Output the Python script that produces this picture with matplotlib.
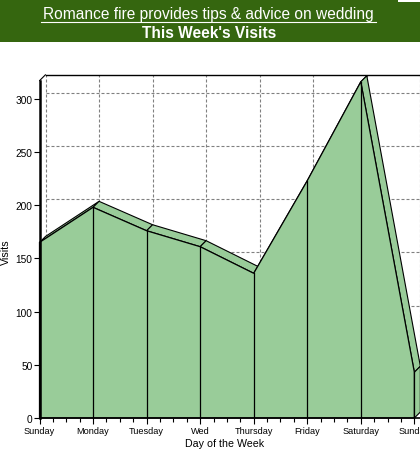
import matplotlib
matplotlib.use('Agg')
import matplotlib.pyplot as plt
import numpy as np
from matplotlib.patches import Polygon, Rectangle, ConnectionPatch
from matplotlib.ticker import MultipleLocator
import matplotlib.transforms as mtransforms

days = ['Sunday', 'Monday', 'Tuesday', 'Wed', 'Thursday', 'Friday', 'Saturday', 'Sunday']
visits = [165, 198, 176, 161, 136, 223, 316, 43]
yticks = [0, 50, 100, 150, 200, 250, 300]
title1 = 'Romance fire provides tips & advice on wedding'
title2 = "This Week's Visits"

W, H = 420, 456
FILL = '#99cc99'
HEAD = '#35660f'
plt.rcParams['font.family'] = ['Liberation Sans', 'DejaVu Sans']

fig = plt.figure(figsize=(W / 100, H / 100), dpi=100)
fig.patches.append(Rectangle((0, 1 - 43 / H), 1, 43 / H, transform=fig.transFigure,
                             facecolor=HEAD, edgecolor='none', zorder=0))
fig.patches.append(Rectangle((398 / W, 1 - 3 / H), 22 / W, 3 / H, transform=fig.transFigure,
                             facecolor='white', edgecolor='none', zorder=1))
fig.text(208.5 / W, 1 - 15 / H, title1, color='white', fontsize=11.2,
         ha='center', va='center')
fig.add_artist(plt.Line2D([41 / W, 376 / W], [1 - 22.5 / H, 1 - 22.5 / H],
                          transform=fig.transFigure, color='white', lw=0.8))
fig.text(209.5 / W, 1 - 33 / H, title2, color='white', fontsize=11.2,
         fontweight='bold', ha='center', va='center')

# axes: front plane
x0px, y0px = 39.5, 419
pxx = 53.55   # px per category
ymax = 317
pxy = 1.064
xmax = 7.25
ax = fig.add_axes([x0px / W, (H - y0px) / H, xmax * pxx / W, ymax * pxy / H])
ax.set_xlim(0, xmax)
ax.set_ylim(0, ymax)
ax.patch.set_visible(False)
for s in ax.spines.values():
    s.set_visible(False)

DX, DY = 6, 6
back = mtransforms.offset_copy(ax.transData, fig=fig, x=DX, y=DY, units='dots')

# back wall gridlines
for yv in yticks[1:]:
    ax.plot([0, xmax], [yv, yv], transform=back, color='#808080', lw=0.8,
            ls=(0, (2.7, 1.8)), zorder=1, clip_on=False)
for i in range(len(days)):
    ax.plot([i, i], [0, ymax], transform=back, color='#808080', lw=0.8,
            ls=(0, (2.7, 1.8)), zorder=1, clip_on=False)
ax.plot([0, xmax], [ymax, ymax], transform=back, color='black', lw=1.0,
        zorder=1, clip_on=False)
con = ConnectionPatch(xyA=(0, ymax), coordsA=ax.transData, xyB=(0, ymax), coordsB=back,
                      color='black', lw=0.8, zorder=6)
fig.add_artist(con)

# offset helper through transforms
def to_back(pts):
    disp = ax.transData.transform(np.asarray(pts, dtype=float))
    disp = disp + np.array([DX, DY])
    return ax.transData.inverted().transform(disp)

xs = np.arange(len(visits))
vs = np.array(visits, dtype=float)

# top strips
for i in range(len(vs) - 1):
    f = [(xs[i], vs[i]), (xs[i + 1], vs[i + 1])]
    b = to_back(f)
    poly = Polygon([f[0], f[1], b[1], b[0]], closed=True, facecolor=FILL,
                   edgecolor='black', lw=0.8, zorder=2, clip_on=False)
    ax.add_patch(poly)

# right side face
f = [(xs[-1], 0), (xs[-1], vs[-1])]
b = to_back(f)
ax.add_patch(Polygon([f[0], f[1], b[1], b[0]], closed=True, facecolor=FILL,
                     edgecolor='black', lw=0.8, zorder=2, clip_on=False))

# front face
front = [(xs[0], 0)] + list(zip(xs, vs)) + [(xs[-1], 0)]
ax.add_patch(Polygon(front, closed=True, facecolor=FILL, edgecolor='black',
                     lw=0.9, zorder=3, clip_on=False))
for i in range(len(vs)):
    ax.plot([xs[i], xs[i]], [0, vs[i]], color='black', lw=0.9, zorder=4, clip_on=False)

# axes lines
ax.plot([0, 0], [0, ymax], color='black', lw=1.8, zorder=5, clip_on=False)
ax.plot([0, xmax], [0, 0], color='black', lw=1.2, zorder=5, clip_on=False)

ax.set_xticks(xs)
ax.set_xticklabels(days, fontsize=6.6)
ax.xaxis.set_minor_locator(MultipleLocator(0.25))
ax.set_yticks(yticks)
ax.set_yticklabels([str(t) for t in yticks], fontsize=7.3)
ax.tick_params(axis='x', which='major', length=4, width=0.8, pad=2)
ax.tick_params(axis='x', which='minor', length=3, width=0.8)
ax.tick_params(axis='y', which='major', length=4, width=0.8, pad=1)

fig.text(225 / W, 1 - 444 / H, 'Day of the Week', fontsize=7.7, ha='center', va='center')
fig.text(6 / W, 1 - 252 / H, 'Visits', fontsize=7.7, ha='center', va='center', rotation=90)

fig.savefig('out.png', dpi=100)
